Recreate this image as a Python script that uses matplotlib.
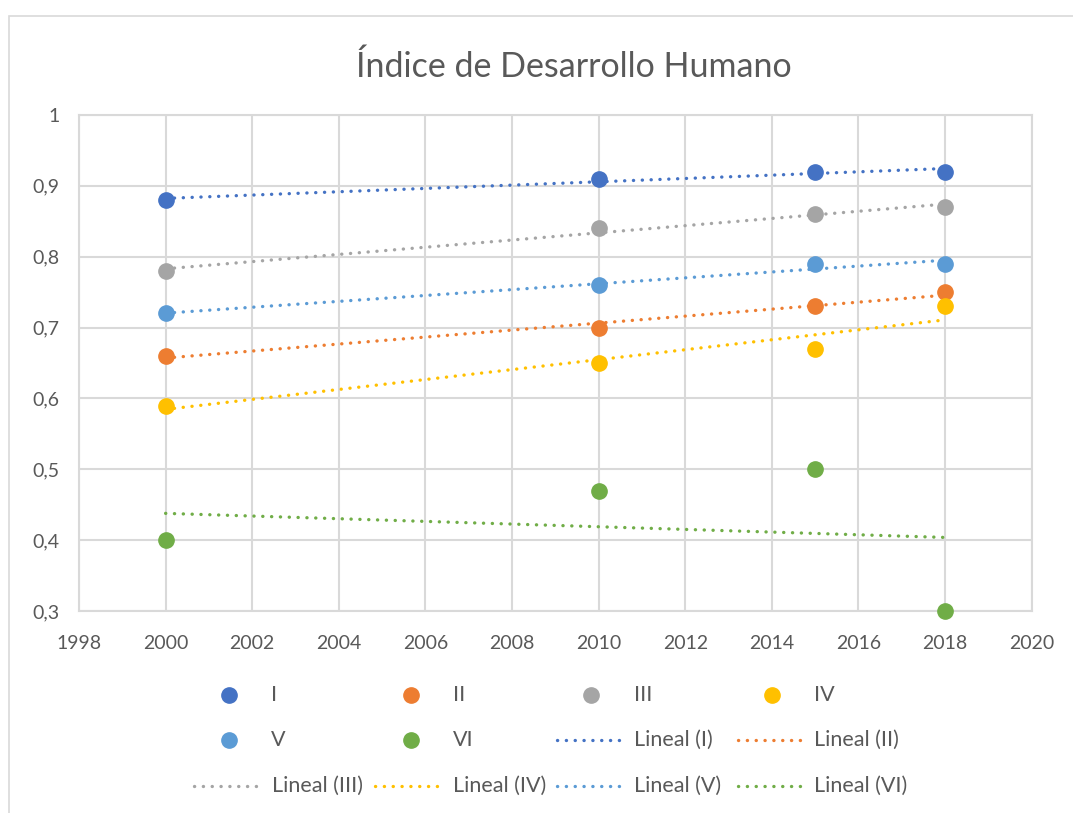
import numpy as np
import matplotlib
matplotlib.use("Agg")
import matplotlib.pyplot as plt
from matplotlib.lines import Line2D
from matplotlib.patches import Rectangle

years = [2000, 2010, 2015, 2018]
series_names = ["I", "II", "III", "IV", "V", "VI"]
s_I = [0.88, 0.91, 0.92, 0.92]
s_II = [0.66, 0.70, 0.73, 0.75]
s_III = [0.78, 0.84, 0.86, 0.87]
s_IV = [0.59, 0.65, 0.67, 0.73]
s_V = [0.72, 0.76, 0.79, 0.79]
s_VI = [0.40, 0.47, 0.50, 0.30]
colors = ["#4472C4", "#ED7D31", "#A5A5A5", "#FFC000", "#5B9BD5", "#70AD47"]
x_ticks = list(range(1998, 2021, 2))
y_ticks = [0.3, 0.4, 0.5, 0.6, 0.7, 0.8, 0.9, 1.0]
y_labels = ["0,3", "0,4", "0,5", "0,6", "0,7", "0,8", "0,9", "1"]
title = "Índice de Desarrollo Humano"

all_series = [s_I, s_II, s_III, s_IV, s_V, s_VI]

plt.rcParams['font.family'] = ['Lato', 'DejaVu Sans']
TXT = "#595959"
GRID = "#D9D9D9"

W, H = 1073, 813
fig = plt.figure(figsize=(W / 100, H / 100), dpi=100)

def fx(px):
    return px / W

def fy(py):
    return 1 - py / H

# chart border (extends beyond the right and bottom edges)
fig.patches.append(Rectangle((fx(9), fy(900)), fx(1200), (900 - 16) / H,
                             transform=fig.transFigure, fill=False,
                             edgecolor=GRID, linewidth=1.2))

left, right, top, bottom = 79, 1031.7, 115, 611
ax = fig.add_axes([fx(left), fy(bottom), fx(right - left), (bottom - top) / H])
ax.set_xlim(1998, 2020)
ax.set_ylim(0.3, 1.0)
ax.set_xticks(x_ticks)
ax.set_yticks(y_ticks)
ax.set_yticklabels(y_labels)
ax.grid(True, color=GRID, linewidth=1.5)
ax.set_axisbelow(True)
for sp in ax.spines.values():
    sp.set_color(GRID)
    sp.set_linewidth(1.5)
ax.tick_params(length=0, labelsize=14, colors=TXT, pad=14)
ax.tick_params(axis='x', pad=17)

dot_style = dict(linestyle=(0, (0.05, 2.6)), dash_capstyle='round', linewidth=2.4)

xs = np.array(years, dtype=float)
for vals, c in zip(all_series, colors):
    m, b = np.polyfit(xs, np.array(vals), 1)
    xl = np.array([xs.min(), xs.max()])
    ax.plot(xl, m * xl + b, color=c, zorder=3, **dot_style)
for vals, c in zip(all_series, colors):
    ax.plot(years, vals, 'o', color=c, markersize=11, zorder=4, clip_on=False)

fig.text(fx(574), fy(67), title, ha='center', va='center', fontsize=24.5, color=TXT)

# legend (Excel-style grid, row-major)
fsz = 15.5
r1 = fy(695); r2 = fy(740); r3 = fy(786)
marker_pos = [(0, 229, r1, 271), (1, 411, r1, 453), (2, 591, r1, 634), (3, 772, r1, 814),
              (4, 229, r2, 271), (5, 411, r2, 453)]
for i, mx, yy, tx in marker_pos:
    fig.add_artist(Line2D([fx(mx)], [yy], marker='o', color=colors[i], markersize=11,
                          linestyle='none', transform=fig.transFigure))
    fig.text(fx(tx), yy, series_names[i], ha='left', va='center', fontsize=fsz, color=TXT)
line_pos = [(0, 557, 619, r2, 634), (1, 738, 800, r2, 814),
            (2, 194, 258, r3, 272), (3, 375, 439, r3, 453),
            (4, 557, 619, r3, 634), (5, 738, 800, r3, 814)]
for i, x0, x1, yy, tx in line_pos:
    fig.add_artist(Line2D([fx(x0), fx(x1)], [yy, yy], color=colors[i],
                          transform=fig.transFigure, **dot_style))
    fig.text(fx(tx), yy, "Lineal (" + series_names[i] + ")", ha='left', va='center',
             fontsize=fsz, color=TXT)

fig.savefig("out.png", dpi=100, facecolor="white")
